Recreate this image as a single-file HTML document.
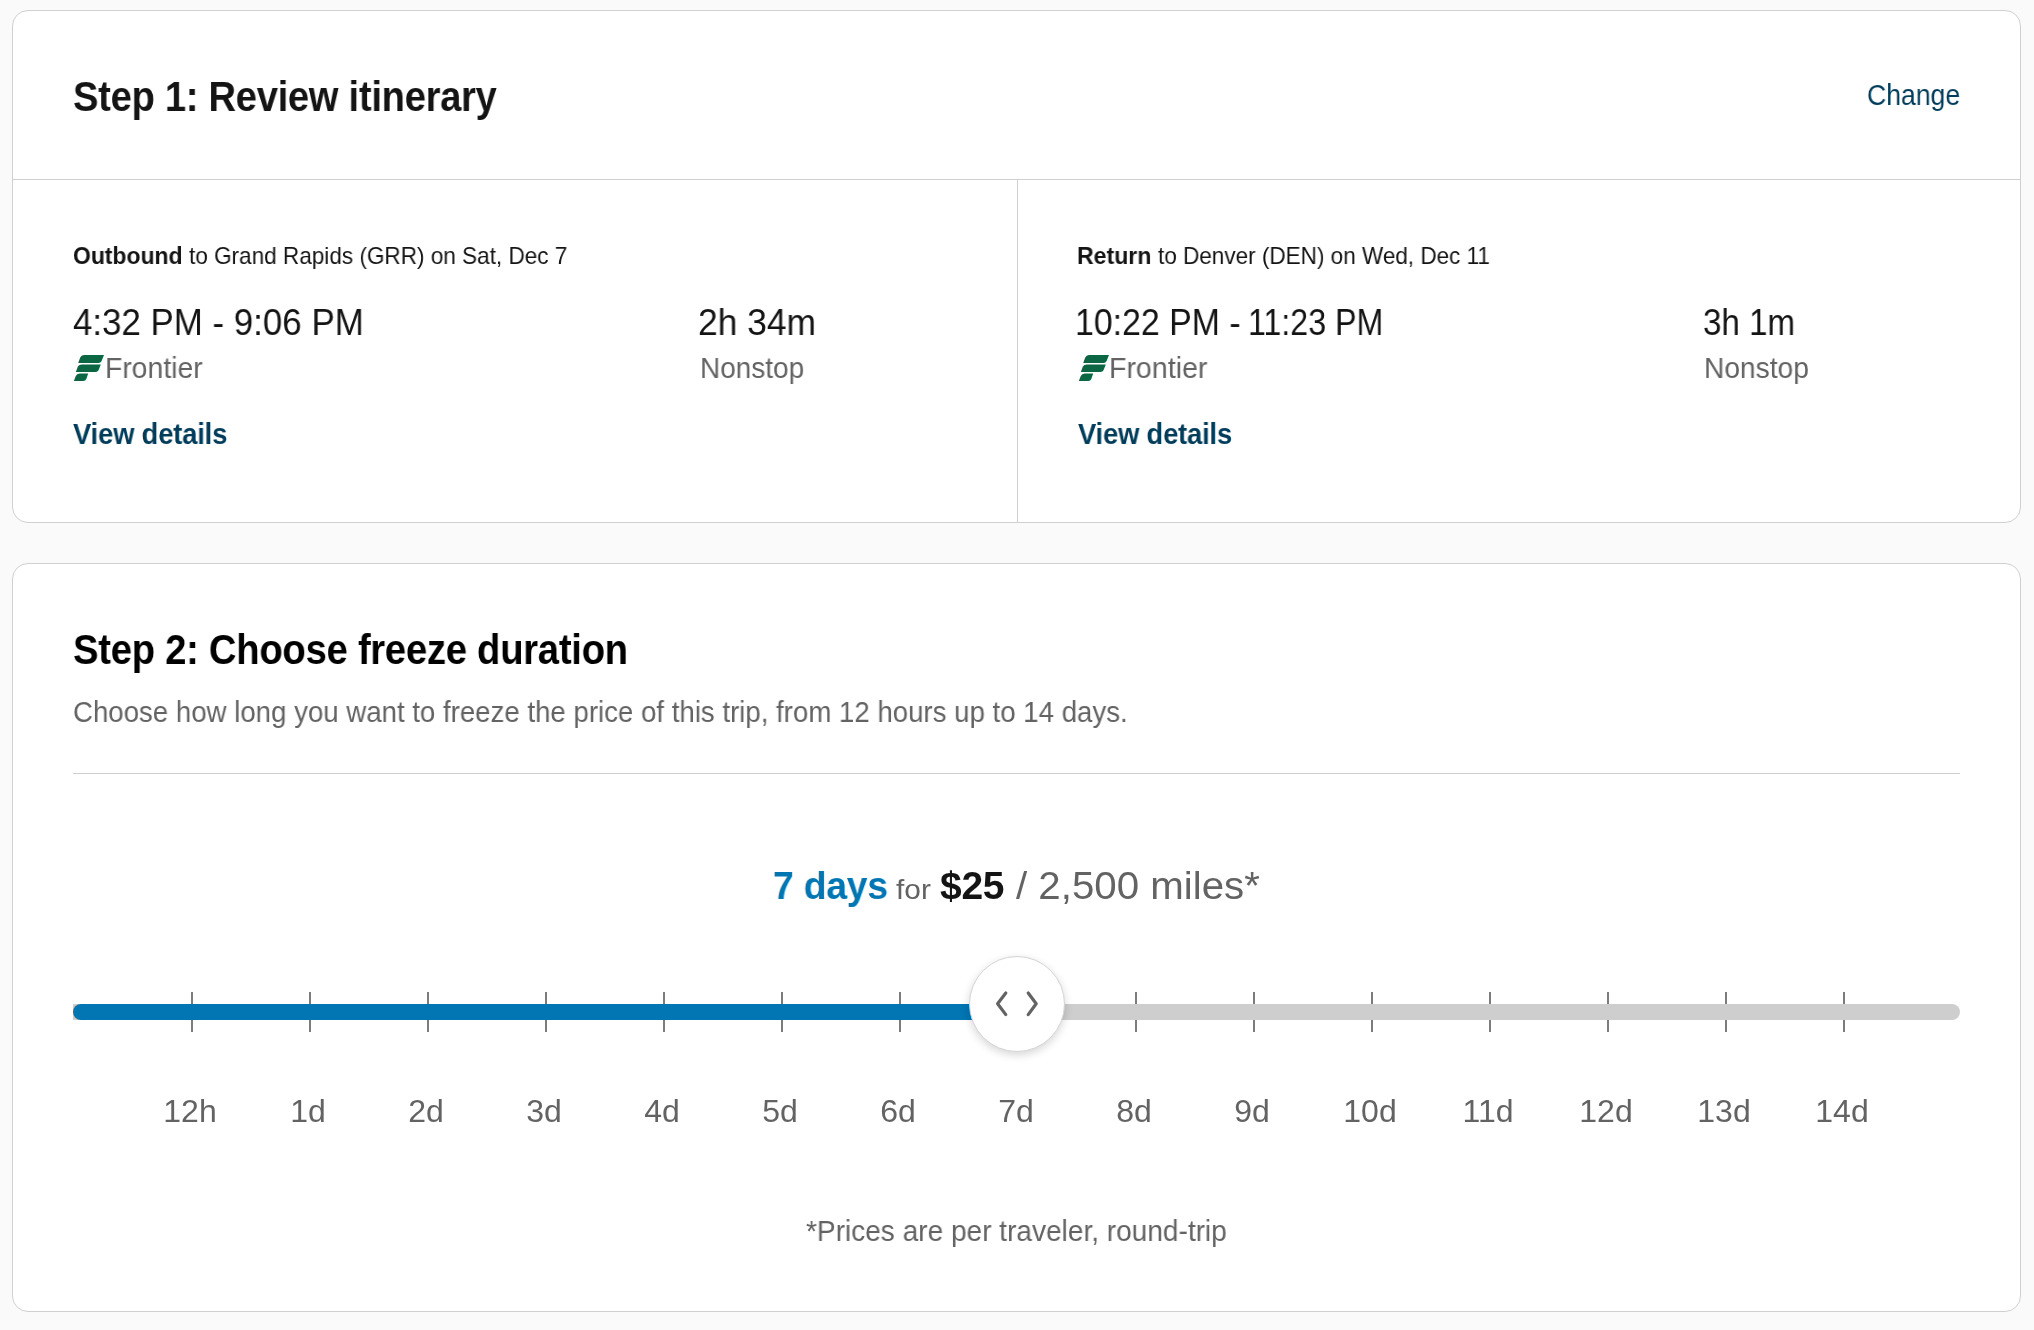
<!DOCTYPE html>
<html>
<head>
<meta charset="utf-8">
<style>
html,body{margin:0;padding:0;}
body{width:2034px;height:1330px;overflow:hidden;background:#fafafa;position:relative;font-family:"Liberation Sans",sans-serif;color:#141414;}
.card{position:absolute;left:12px;width:2009px;box-sizing:border-box;border:1px solid #d0d0d0;border-radius:16px;background:#fff;}
#c1{top:10px;height:513px;}
#c2{top:563px;height:749px;}
.t{position:absolute;white-space:nowrap;line-height:1;transform-origin:0 0;will-change:transform;}
.hline{position:absolute;height:1px;background:#d0d0d0;}
.vline{position:absolute;width:1px;background:#d0d0d0;}
.logo{position:absolute;width:32px;height:28px;}
.track{position:absolute;left:73px;top:1004px;width:1887px;height:16px;background:#cecece;border-radius:0 8px 8px 0;}
.fill{position:absolute;left:73px;top:1004px;width:944px;height:16px;background:#0275b3;border-radius:8px 0 0 8px;}
.tick{position:absolute;top:992px;width:2px;height:40px;background:#7c7c7c;}
.lab{position:absolute;top:1095px;width:120px;margin-left:-2px;text-align:center;font-size:32px;line-height:1;color:#636363;will-change:transform;}
.handle{position:absolute;left:969px;top:956px;width:96px;height:96px;box-sizing:border-box;border:1px solid #d4d4d4;border-radius:50%;background:#fff;box-shadow:0 3px 8px rgba(0,0,0,0.16);}
</style>
</head>
<body>
<div class="card" id="c1"></div>
<div class="card" id="c2"></div>
<div class="hline" style="left:13px;top:179px;width:2007px;"></div>
<div class="vline" style="left:1017px;top:180px;height:342px;"></div>
<div class="hline" style="left:73px;top:773px;width:1887px;"></div>
<svg class="logo" style="left:73px;top:354px;" viewBox="0 0 32 28"><g fill="#0b6743"><path d="M31,1 L28.6,7 Q27.8,9 25.5,9 L5.2,9 L7.2,3.6 Q8.2,1 11,1 Z"/><path d="M27.8,10.4 L25.6,16 Q24.8,18 22.5,18 L2.8,18 L4.9,12.6 Q5.9,10.4 8.8,10.4 Z"/><path d="M15.2,19.5 L13.4,24.8 Q12.6,27 10.2,27 L0.8,27 L2.8,22 Q3.8,19.5 6.6,19.5 Z"/></g></svg>
<svg class="logo" style="left:1078px;top:354px;" viewBox="0 0 32 28"><g fill="#0b6743"><path d="M31,1 L28.6,7 Q27.8,9 25.5,9 L5.2,9 L7.2,3.6 Q8.2,1 11,1 Z"/><path d="M27.8,10.4 L25.6,16 Q24.8,18 22.5,18 L2.8,18 L4.9,12.6 Q5.9,10.4 8.8,10.4 Z"/><path d="M15.2,19.5 L13.4,24.8 Q12.6,27 10.2,27 L0.8,27 L2.8,22 Q3.8,19.5 6.6,19.5 Z"/></g></svg>
<div class="tick" style="left:191px"></div>
<div class="tick" style="left:309px"></div>
<div class="tick" style="left:427px"></div>
<div class="tick" style="left:545px"></div>
<div class="tick" style="left:663px"></div>
<div class="tick" style="left:781px"></div>
<div class="tick" style="left:899px"></div>
<div class="tick" style="left:1017px"></div>
<div class="tick" style="left:1135px"></div>
<div class="tick" style="left:1253px"></div>
<div class="tick" style="left:1371px"></div>
<div class="tick" style="left:1489px"></div>
<div class="tick" style="left:1607px"></div>
<div class="tick" style="left:1725px"></div>
<div class="tick" style="left:1843px"></div>
<div class="track"></div>
<div class="fill"></div>
<div class="handle"><svg width="94" height="94" style="position:absolute;left:0;top:0;" viewBox="970 957 94 94"><g fill="none" stroke="#636363" stroke-width="3.2" stroke-linecap="round" stroke-linejoin="round"><path d="M1005.8,993 L997.6,1003.8 L1005.8,1014.6"/><path d="M1028.2,993 L1036.2,1003.8 L1028.2,1014.6"/></g></svg></div>
<div class="lab" style="left:132px">12h</div>
<div class="lab" style="left:250px">1d</div>
<div class="lab" style="left:368px">2d</div>
<div class="lab" style="left:486px">3d</div>
<div class="lab" style="left:604px">4d</div>
<div class="lab" style="left:722px">5d</div>
<div class="lab" style="left:840px">6d</div>
<div class="lab" style="left:958px">7d</div>
<div class="lab" style="left:1076px">8d</div>
<div class="lab" style="left:1194px">9d</div>
<div class="lab" style="left:1312px">10d</div>
<div class="lab" style="left:1430px">11d</div>
<div class="lab" style="left:1548px">12d</div>
<div class="lab" style="left:1666px">13d</div>
<div class="lab" style="left:1784px">14d</div>
<div class="t" id="h1" style="left:73.09px;top:76px;font-size:42px;color:#141414;font-weight:bold;letter-spacing:-0.3px;transform:scaleX(0.9077);">Step 1: Review itinerary</div>
<div class="t" id="chg" style="left:1867.28px;top:81px;font-size:29px;color:#013d5b;transform:scaleX(0.9172);">Change</div>
<div class="t" id="ob_b" style="left:72.84px;top:244px;font-size:24px;color:#141414;font-weight:bold;transform:scaleX(0.9554);">Outbound</div>
<div class="t" id="ob_r" style="left:189.10px;top:244px;font-size:24px;color:#141414;transform:scaleX(0.9391);">to Grand Rapids (GRR) on Sat, Dec 7</div>
<div class="t" id="tm1" style="left:72.83px;top:305px;font-size:36px;color:#141414;transform:scaleX(0.9686);">4:32 PM - 9:06 PM</div>
<div class="t" id="fr1" style="left:105.25px;top:354px;font-size:29px;color:#636363;transform:scaleX(0.9773);">Frontier</div>
<div class="t" id="vd1" style="left:73.30px;top:420px;font-size:29px;color:#013d5b;font-weight:bold;letter-spacing:-0.2px;transform:scaleX(0.9451);">View details</div>
<div class="t" id="du1" style="left:698.03px;top:305px;font-size:36px;color:#141414;transform:scaleX(0.9836);">2h 34m</div>
<div class="t" id="ns1" style="left:699.97px;top:354px;font-size:29px;color:#636363;transform:scaleX(0.9638);">Nonstop</div>
<div class="t" id="rt_b" style="left:1077.04px;top:244px;font-size:24px;color:#141414;font-weight:bold;transform:scaleX(0.9613);">Return</div>
<div class="t" id="rt_r" style="left:1158.20px;top:244px;font-size:24px;color:#141414;transform:scaleX(0.9380);">to Denver (DEN) on Wed, Dec 11</div>
<div class="t" id="tm2a" style="left:1075.18px;top:305px;font-size:36px;color:#141414;transform:scaleX(0.9413);">10:22 PM -</div>
<div class="t" id="tm2b" style="left:1248.22px;top:305px;font-size:36px;color:#141414;transform:scaleX(0.8932);">11:23 PM</div>
<div class="t" id="fr2" style="left:1109.03px;top:354px;font-size:29px;color:#636363;transform:scaleX(0.9845);">Frontier</div>
<div class="t" id="vd2" style="left:1078.30px;top:420px;font-size:29px;color:#013d5b;font-weight:bold;letter-spacing:-0.2px;transform:scaleX(0.9438);">View details</div>
<div class="t" id="du2" style="left:1703.28px;top:305px;font-size:36px;color:#141414;transform:scaleX(0.9206);">3h 1m</div>
<div class="t" id="ns2" style="left:1704.16px;top:354px;font-size:29px;color:#636363;transform:scaleX(0.9705);">Nonstop</div>
<div class="t" id="h2" style="left:73.39px;top:629px;font-size:42px;color:#000;font-weight:bold;letter-spacing:-0.3px;transform:scaleX(0.9104);">Step 2: Choose freeze duration</div>
<div class="t" id="sub" style="left:72.70px;top:698px;font-size:29px;color:#636363;transform:scaleX(0.9523);">Choose how long you want to freeze the price of this trip, from 12 hours up to 14 days.</div>
<div class="t" id="p1" style="left:772.74px;top:866px;font-size:39px;color:#0276b3;font-weight:bold;letter-spacing:-0.3px;transform:scaleX(0.9598);">7 days</div>
<div class="t" id="p2" style="left:895.80px;top:876px;font-size:28px;color:#636363;transform:scaleX(1.0656);">for</div>
<div class="t" id="p3" style="left:939.90px;top:866px;font-size:39px;color:#141414;font-weight:bold;letter-spacing:-0.3px;transform:scaleX(0.9968);">$25</div>
<div class="t" id="p4" style="left:1016.00px;top:866px;font-size:39px;color:#636363;transform:scaleX(1.0323);">/ 2,500 miles*</div>
<div class="t" id="foot" style="left:806.33px;top:1217px;font-size:29px;color:#636363;transform:scaleX(0.9670);">*Prices are per traveler, round-trip</div>
</body>
</html>
